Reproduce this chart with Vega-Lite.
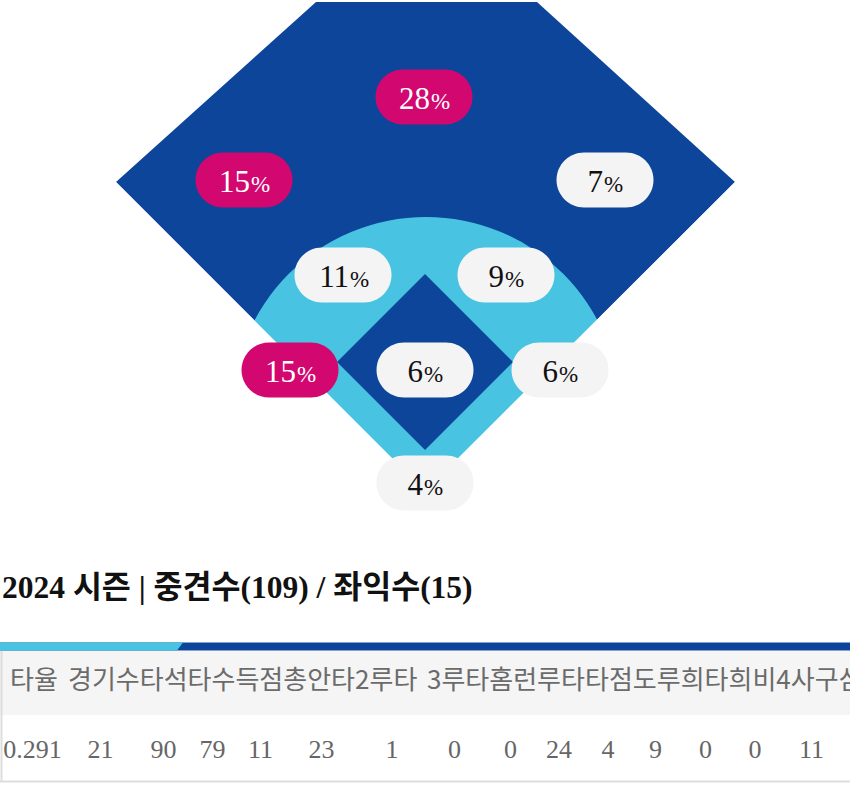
{
  "$schema": "https://vega.github.io/schema/vega-lite/v6.json",
  "width": 850,
  "height": 796,
  "padding": 0,
  "autosize": {"type": "none"},
  "background": "#ffffff",
  "config": {"view": {"stroke": null}},
  "datasets": {
    "outfield": [
      {"x": 116, "y": 182, "y2": 182},
      {"x": 316, "y": 2, "y2": 382},
      {"x": 425, "y": 2, "y2": 491},
      {"x": 537, "y": 2, "y2": 380},
      {"x": 735, "y": 182, "y2": 182}
    ],
    "arc": [{"x": 426, "y": 411}],
    "mask": [
      {"x": 110, "y": 176, "y2": 625},
      {"x": 425, "y": 491, "y2": 625},
      {"x": 741, "y": 176, "y2": 625}
    ],
    "diamond": [{"x": 425, "y": 362}],
    "zones": [
      {"zone": "중견수", "x": 424, "y": 97, "pct": 28},
      {"zone": "좌익수", "x": 244, "y": 180, "pct": 15},
      {"zone": "우익수", "x": 605, "y": 180, "pct": 7},
      {"zone": "유격수", "x": 343, "y": 275, "pct": 11},
      {"zone": "2루수", "x": 506, "y": 275, "pct": 9},
      {"zone": "3루수", "x": 290, "y": 370, "pct": 15},
      {"zone": "투수", "x": 425, "y": 370, "pct": 6},
      {"zone": "1루수", "x": 560, "y": 370, "pct": 6},
      {"zone": "포수", "x": 425, "y": 483, "pct": 4}
    ],
    "title": [{"x": 2, "y": 598, "label": "2024 시즌 | 중견수(109) / 좌익수(15)"}],
    "barDark": [
      {"x": 0, "y": 642.5, "y2": 650.5},
      {"x": 850, "y": 642.5, "y2": 650.5}
    ],
    "barLight": [
      {"x": 0, "y": 642.5, "y2": 650.5},
      {"x": 177, "y": 642.5, "y2": 650.5},
      {"x": 183, "y": 642.5, "y2": 642.5}
    ],
    "headerBg": [
      {"x": 0, "y": 651, "y2": 715},
      {"x": 850, "y": 651, "y2": 715}
    ],
    "borderLeft": [{"x": 1.5, "y": 651, "y2": 782}],
    "borderBottom": [{"x": 0, "x2": 850, "y": 781.5}],
    "header": [
      {"x": 10, "y": 689, "label": "타율"},
      {"x": 68, "y": 689, "label": "경기수타석타수득점총안타2루타"},
      {"x": 427, "y": 689, "label": "3루타홈런루타"},
      {"x": 585, "y": 689, "label": "타점도루희타희비4사구삼진"}
    ],
    "stats": [
      {"stat": "타율", "x": 32.5, "y": 758, "v": "0.291"},
      {"stat": "경기수", "x": 100.5, "y": 758, "v": "21"},
      {"stat": "타석", "x": 163.5, "y": 758, "v": "90"},
      {"stat": "타수", "x": 212.5, "y": 758, "v": "79"},
      {"stat": "득점", "x": 260.5, "y": 758, "v": "11"},
      {"stat": "총안타", "x": 321.5, "y": 758, "v": "23"},
      {"stat": "2루타", "x": 392, "y": 758, "v": "1"},
      {"stat": "3루타", "x": 454.5, "y": 758, "v": "0"},
      {"stat": "홈런", "x": 510.5, "y": 758, "v": "0"},
      {"stat": "루타", "x": 559, "y": 758, "v": "24"},
      {"stat": "타점", "x": 608, "y": 758, "v": "4"},
      {"stat": "도루", "x": 655.5, "y": 758, "v": "9"},
      {"stat": "희타", "x": 705.5, "y": 758, "v": "0"},
      {"stat": "희비", "x": 755, "y": 758, "v": "0"},
      {"stat": "4사구", "x": 811.5, "y": 758, "v": "11"}
    ]
  },
  "encoding": {
    "x": {"field": "x", "type": "quantitative", "scale": {"domain": [0, 850], "nice": false, "zero": false}, "axis": null},
    "y": {"field": "y", "type": "quantitative", "scale": {"domain": [0, 796], "nice": false, "zero": false, "reverse": true}, "axis": null}
  },
  "layer": [
    {
      "data": {"name": "outfield"},
      "mark": {"type": "area", "color": "#0c4599", "opacity": 1},
      "encoding": {"y2": {"field": "y2"}}
    },
    {
      "data": {"name": "arc"},
      "mark": {"type": "point", "shape": "circle", "filled": true, "opacity": 1, "color": "#48c4e2", "strokeWidth": 0, "size": 150544}
    },
    {
      "data": {"name": "mask"},
      "mark": {"type": "area", "color": "#ffffff", "opacity": 1},
      "encoding": {"y2": {"field": "y2"}}
    },
    {
      "data": {"name": "diamond"},
      "mark": {"type": "point", "shape": "diamond", "filled": true, "opacity": 1, "color": "#0c4599", "strokeWidth": 0, "size": 30976}
    },
    {
      "data": {"name": "zones"},
      "mark": {"type": "point", "shape": "M -0.433 -0.567 L 0.433 -0.567 A 0.567 0.567 0 0 1 0.433 0.567 L -0.433 0.567 A 0.567 0.567 0 0 1 -0.433 -0.567 Z", "filled": true, "opacity": 1, "strokeWidth": 0, "size": 9409},
      "encoding": {
        "fill": {"condition": {"test": "datum.pct >= 15", "value": "#d2076f"}, "value": "#f4f4f4"}
      }
    },
    {
      "data": {"name": "zones"},
      "transform": [{"filter": "datum.pct >= 10"}],
      "mark": {"type": "text", "align": "right", "baseline": "alphabetic", "dx": 6, "dy": 12, "font": "Liberation Serif", "fontSize": 31},
      "encoding": {
        "text": {"field": "pct"},
        "color": {"condition": {"test": "datum.pct >= 15", "value": "#ffffff"}, "value": "#111111"}
      }
    },
    {
      "data": {"name": "zones"},
      "transform": [{"filter": "datum.pct >= 10"}],
      "mark": {"type": "text", "align": "left", "baseline": "alphabetic", "dx": 7, "dy": 12, "font": "Liberation Serif", "fontSize": 23},
      "encoding": {
        "text": {"value": "%"},
        "color": {"condition": {"test": "datum.pct >= 15", "value": "#ffffff"}, "value": "#111111"}
      }
    },
    {
      "data": {"name": "zones"},
      "transform": [{"filter": "datum.pct < 10"}],
      "mark": {"type": "text", "align": "right", "baseline": "alphabetic", "dx": -2, "dy": 12, "font": "Liberation Serif", "fontSize": 31},
      "encoding": {
        "text": {"field": "pct"},
        "color": {"condition": {"test": "datum.pct >= 15", "value": "#ffffff"}, "value": "#111111"}
      }
    },
    {
      "data": {"name": "zones"},
      "transform": [{"filter": "datum.pct < 10"}],
      "mark": {"type": "text", "align": "left", "baseline": "alphabetic", "dx": -1, "dy": 12, "font": "Liberation Serif", "fontSize": 23},
      "encoding": {
        "text": {"value": "%"},
        "color": {"condition": {"test": "datum.pct >= 15", "value": "#ffffff"}, "value": "#111111"}
      }
    },
    {
      "data": {"name": "title"},
      "mark": {"type": "text", "align": "left", "baseline": "alphabetic", "font": "Liberation Serif, Noto Sans CJK KR", "fontSize": 31.5, "fontWeight": "bold", "color": "#111111"},
      "encoding": {"text": {"field": "label"}}
    },
    {
      "data": {"name": "barDark"},
      "mark": {"type": "area", "color": "#0c4599", "opacity": 1},
      "encoding": {"y2": {"field": "y2"}}
    },
    {
      "data": {"name": "barLight"},
      "mark": {"type": "area", "color": "#48c4e2", "opacity": 1},
      "encoding": {"y2": {"field": "y2"}}
    },
    {
      "data": {"name": "headerBg"},
      "mark": {"type": "area", "color": "#f5f5f5", "opacity": 1},
      "encoding": {"y2": {"field": "y2"}}
    },
    {
      "data": {"name": "borderLeft"},
      "mark": {"type": "rule", "color": "#dddddd", "strokeWidth": 2},
      "encoding": {"y2": {"field": "y2"}}
    },
    {
      "data": {"name": "borderBottom"},
      "mark": {"type": "rule", "color": "#dddddd", "strokeWidth": 2},
      "encoding": {"x2": {"field": "x2"}}
    },
    {
      "data": {"name": "header"},
      "mark": {"type": "text", "align": "left", "baseline": "alphabetic", "font": "Noto Sans CJK KR", "fontSize": 26, "color": "#6b6b6b"},
      "encoding": {"text": {"field": "label"}}
    },
    {
      "data": {"name": "stats"},
      "mark": {"type": "text", "align": "center", "baseline": "alphabetic", "font": "Liberation Serif", "fontSize": 26, "color": "#666666"},
      "encoding": {"text": {"field": "v"}}
    }
  ]
}
